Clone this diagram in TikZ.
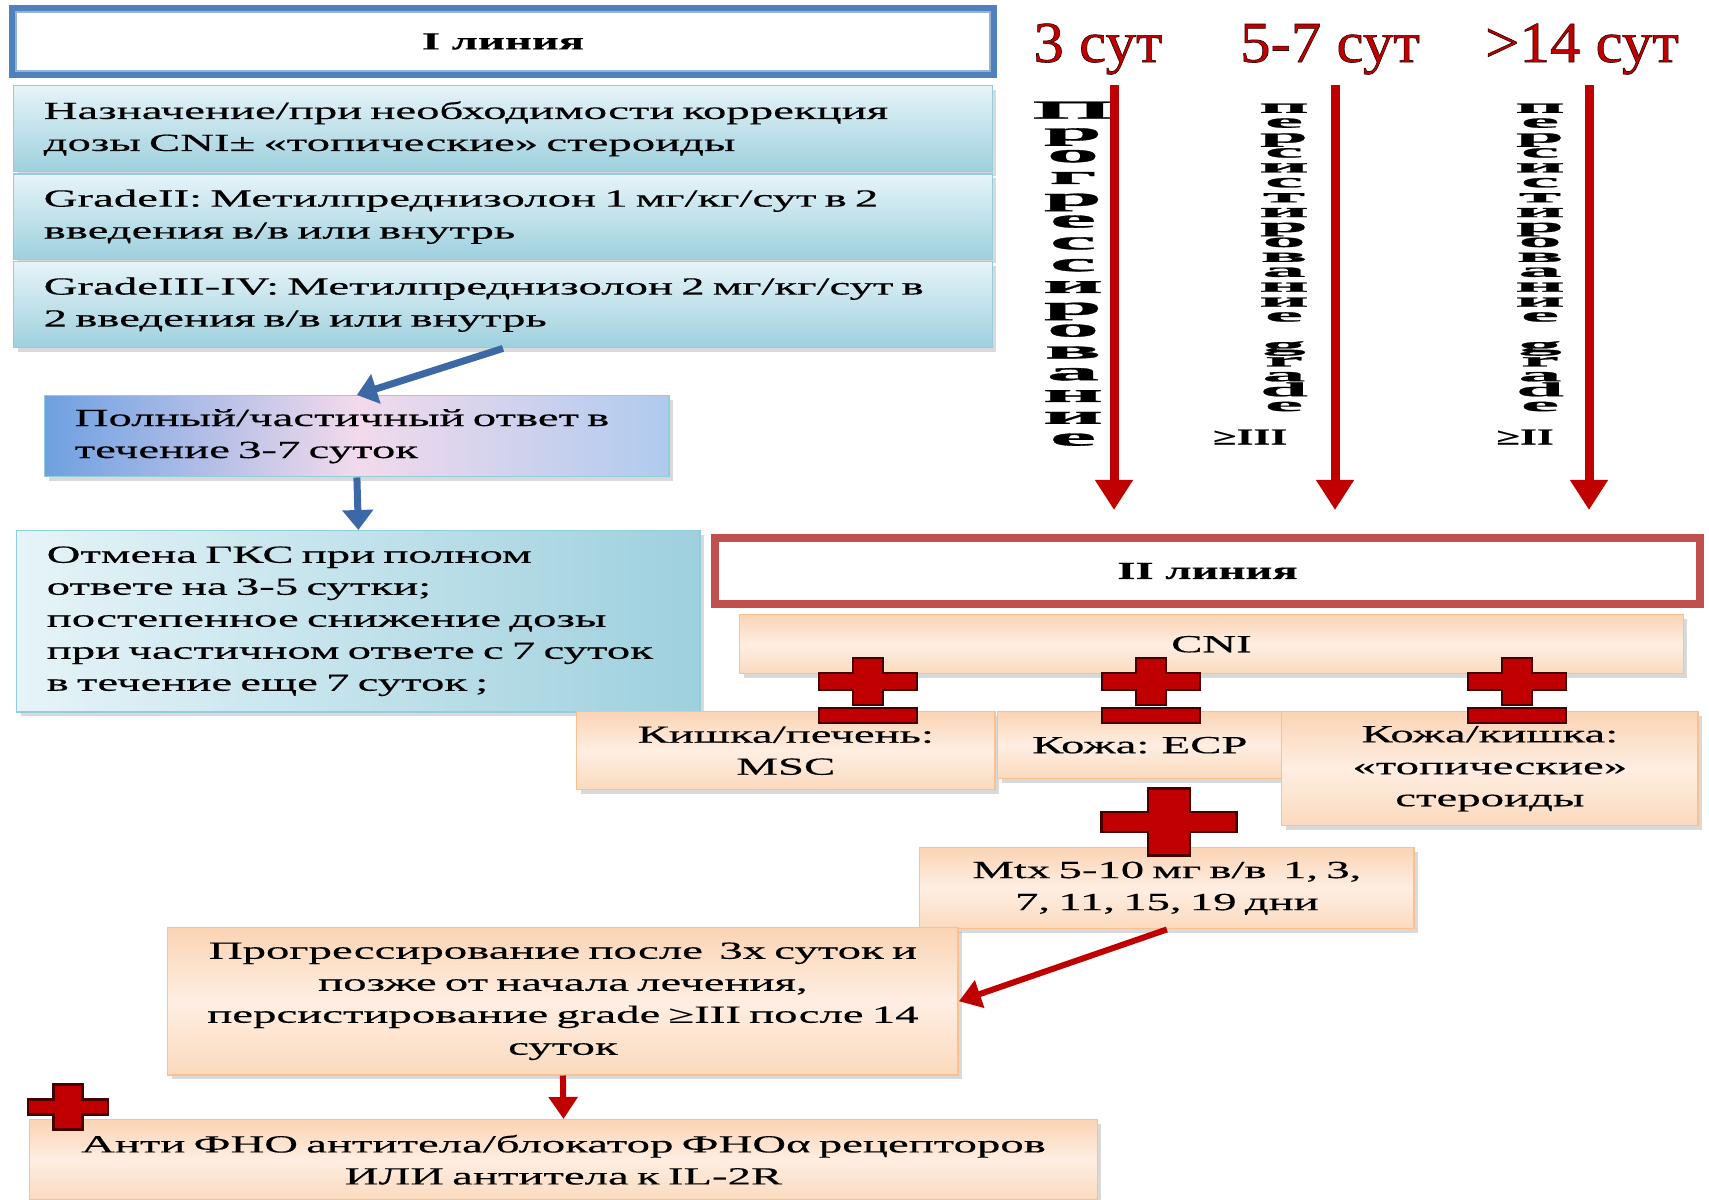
\documentclass[tikz,border=0pt]{standalone}
\usepackage{fontspec}
\setmainfont{Liberation Serif}[FakeStretch=1.9, FakeBold=0.4]
\newfontfamily\daysfont{Liberation Serif}[FakeStretch=1.05, FakeBold=1]
\newfontfamily\stackfont{Liberation Serif}[FakeStretch=4.1, FakeBold=1.2]
\newfontfamily\stackfontsmall{Liberation Serif}[FakeStretch=4.4, FakeBold=1.2]
\usetikzlibrary{shapes,arrows.meta}
\usetikzlibrary{shadows}
\usetikzlibrary{positioning}

\definecolor{lineblue}{RGB}{79,129,189}
\definecolor{paleblue}{RGB}{149,179,215}
\definecolor{arrowblue}{RGB}{60,105,165}
\definecolor{tealtop}{RGB}{230,244,248}
\definecolor{tealbot}{RGB}{158,208,222}
\definecolor{tealedge}{RGB}{147,205,221}
\definecolor{respblue}{RGB}{110,160,225}
\definecolor{resppink}{RGB}{242,218,236}
\definecolor{framered}{RGB}{192,80,77}
\definecolor{darkred}{RGB}{192,0,0}
\definecolor{crossedge}{RGB}{70,0,0}
\definecolor{peachtop}{RGB}{251,212,180}
\definecolor{peachmid}{RGB}{254,238,226}
\definecolor{peachbot}{RGB}{251,218,190}
\definecolor{peachedge}{RGB}{250,192,143}

% cross: centre x, centre y, half width / half height of the bar across, half width / half height of the upright bar
\newcommand{\redcross}[6]{%
  \draw[crossfill] (#1-#5,#2-#6) -- (#1+#5,#2-#6) -- (#1+#5,#2-#4) -- (#1+#3,#2-#4)
    -- (#1+#3,#2+#4) -- (#1+#5,#2+#4) -- (#1+#5,#2+#6) -- (#1-#5,#2+#6)
    -- (#1-#5,#2+#4) -- (#1-#3,#2+#4) -- (#1-#3,#2-#4) -- (#1-#5,#2-#4) -- cycle;}
% dark outline round the red day labels
\newcommand{\darkedge}{\special{pdf:literal direct 0.15 0 0 RG}}
% letters set one under another, tightly
\newcommand{\tightlines}{\setlength{\lineskiplimit}{-20pt}}

\begin{document}
\begin{tikzpicture}[x=0.01cm, y=-0.01cm,
    boxfont/.style={font=\fontsize{7}{9.1}\selectfont},
    linebox/.style={draw=#1, line width=0.08cm, fill=white, inner sep=0pt, font=\fontsize{7}{9}\selectfont\bfseries},
    bluebox/.style={boxfont, draw=tealedge, top color=tealtop, bottom color=tealbot, drop shadow={shadow xshift=0.04cm, shadow yshift=-0.04cm, opacity=0.3}, align=left, inner xsep=0.3cm, inner ysep=0pt},
    respbox/.style={bluebox, left color=respblue, right color=respblue!55!white, middle color=resppink},
    peachbox/.style={boxfont, draw=peachedge, top color=peachtop, bottom color=peachbot, middle color=peachmid, drop shadow={shadow xshift=0.04cm, shadow yshift=-0.04cm, opacity=0.3}, align=center, inner xsep=0.1cm, inner ysep=0pt},
    bluearrow/.style={arrowblue, line width=0.07cm, -{Triangle[width=0.3cm,length=0.2cm]}},
    redarrow/.style={darkred, line width=0.06cm, -{Triangle[width=0.28cm,length=0.22cm]}},
    longarrow/.style={darkred, line width=0.09cm, -{Triangle[width=0.36cm,length=0.3cm]}},
    days/.style={font=\daysfont\fontsize{16.5}{16.5}\selectfont, text=darkred, inner sep=0pt, anchor=base},
    bigstack/.style={font=\stackfont\fontsize{7.3}{6.2}\selectfont\bfseries\tightlines, align=center, inner sep=0pt, anchor=north},
    smallstack/.style={font=\stackfontsmall\fontsize{5.6}{4.24}\selectfont\bfseries\tightlines, align=center, inner sep=0pt, anchor=north},
    grademark/.style={font=\fontsize{6.5}{6.5}\selectfont\bfseries, inner sep=0pt},
    crossfill/.style={fill=darkred, draw=crossedge, line width=0.6pt}]
  \useasboundingbox (0,0) rectangle (1709,1199);

  % I line
  \node[linebox=lineblue, minimum width=9.8cm, minimum height=0.65cm] (lineI) at (503,41.5) {I линия};
  \draw[paleblue, line width=0.6pt] ([shift={(7,7)}]lineI.north west) rectangle ([shift={(-7,-7)}]lineI.south east);
  \node[bluebox, text width=9.18cm, minimum height=0.86cm, below=0.07cm of lineI] (dose) {Назначение/при необходимости коррекция\\дозы CNI± «топические» стероиды};
  \node[bluebox, text width=9.18cm, minimum height=0.85cm, below=0.01cm of dose] (grade2) {GradeII: Метилпреднизолон 1 мг/кг/сут в 2\\введения в/в или внутрь};
  \node[bluebox, text width=9.18cm, minimum height=0.86cm, below=0.01cm of grade2] (grade3) {GradeIII-IV: Метилпреднизолон 2 мг/кг/сут в\\2 введения в/в или внутрь};
  \node[respbox, text width=5.64cm, minimum height=0.81cm, anchor=north west] (resp) at (44,395) {Полный/частичный ответ в\\течение 3-7 суток};
  \node[bluebox, left color=tealtop, right color=tealbot, text width=6.23cm, minimum height=1.81cm, anchor=north west] (stop) at (16,530)
    {Отмена ГКС при полном\\ответе на 3-5 сутки;\\постепенное снижение дозы\\при частичном ответе с 7 суток\\в течение еще 7 суток ;};

  % II line
  \node[linebox=framered, minimum width=9.85cm, minimum height=0.66cm] (lineII) at (1207.5,571) {II линия};
  \draw[framered, line width=0.6pt] ([shift={(7,7)}]lineII.north west) rectangle ([shift={(-7,-7)}]lineII.south east);
  \node[peachbox, text width=9.23cm, minimum height=0.59cm, anchor=north west] (cni) at (739,614) {CNI};
  \node[peachbox, text width=3.98cm, minimum height=0.78cm, anchor=north west] (gut) at (576,711) {Кишка/печень:\\MSC};
  \node[peachbox, text width=2.64cm, minimum height=0.67cm, anchor=north west] (skin) at (997,711) {Кожа: ECP};
  \node[peachbox, text width=3.96cm, minimum height=1.14cm, anchor=north west] (topic) at (1281,711) {Кожа/кишка:\\«топические»\\стероиды};
  \node[peachbox, text width=4.74cm, minimum height=0.81cm, anchor=north west] (mtx) at (919,847) {Mtx 5-10 мг в/в\ \ 1, 3,\\7, 11, 15, 19 дни};
  \node[peachbox, text width=7.70cm, minimum height=1.47cm, anchor=north west] (prog) at (167,927)
    {Прогрессирование после\ \ 3х суток и\\позже от начала лечения,\\персистирование grade ≥III после 14\\суток};
  \node[peachbox, text width=10.47cm, minimum height=0.8cm, anchor=north west] (anti) at (29,1119)
    {Анти ФНО антитела/блокатор ФНОα рецепторов\\ИЛИ антитела к IL-2R};

  \draw[bluearrow] (grade3.south) -- (resp.north);
  \draw[bluearrow] (resp.south) -- (stop.north);
  \draw[redarrow] (mtx.south) -- (prog.east);
  \draw[redarrow] (prog.south) -- (anti.north);

  % time marks
  \node[days] (day3) at (1098,62) {\darkedge 3 сут};
  \node[days] (day57) at (1330,62) {\darkedge 5-7 сут};
  \node[days] (day14) at (1582,62) {\darkedge >14 сут};

  \node[bigstack] (progword) at (1073,101) {П\\р\\о\\г\\р\\е\\с\\с\\и\\р\\о\\в\\а\\н\\и\\е};
  \node[smallstack] (persword3) at (1284,103) {п\\е\\р\\с\\и\\с\\т\\и\\р\\о\\в\\а\\н\\и\\е\\[0.15cm]g\\r\\a\\d\\e};
  \node[smallstack] (persword2) at (1540,103) {п\\е\\р\\с\\и\\с\\т\\и\\р\\о\\в\\а\\н\\и\\е\\[0.15cm]g\\r\\a\\d\\e};
  \node[grademark] (ge3) at (1250,437) {≥III};
  \node[grademark] (ge2) at (1525,437) {≥II};

  \coordinate (top3) at (1114,85);  \coordinate (tip3) at (1114,510);
  \coordinate (top57) at (1335,85); \coordinate (tip57) at (1335,510);
  \coordinate (top14) at (1589,85); \coordinate (tip14) at (1589,510);
  \draw[longarrow] (top3) -- (tip3);
  \draw[longarrow] (top57) -- (tip57);
  \draw[longarrow] (top14) -- (tip14);

  % crosses
  \foreach \cx in {868,1151,1517} {
    \redcross{\cx}{681.5}{49}{8.5}{15}{23.5}
    \draw[crossfill] (\cx-49,708) rectangle (\cx+49,723);
  }
  \redcross{1169}{822}{67.5}{10}{21}{33.5}
  \redcross{68}{1107}{40}{7.5}{14.5}{22.5}
\end{tikzpicture}
\end{document}
